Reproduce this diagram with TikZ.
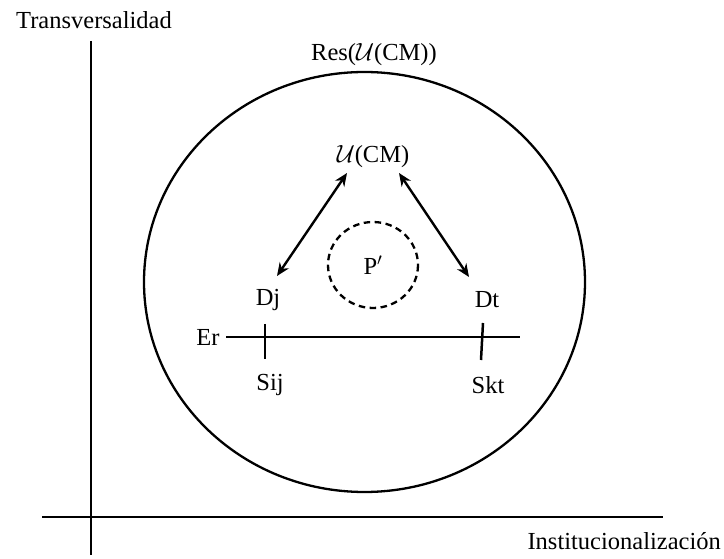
\documentclass[tikz,border=0pt]{standalone}
\usepackage{fontspec}
\setmainfont{Liberation Serif}
\usetikzlibrary{arrows.meta}
\begin{document}
\begin{tikzpicture}[x=1pt,y=-1pt,
  lbl/.style={font=\fontsize{24.5}{28}\selectfont, inner sep=0pt},
  axis/.style={line width=2.8pt},
  thick2/.style={line width=2.3pt},
  dbl/.style={line width=2.4pt, {Stealth[length=13pt,width=11pt]}-{Stealth[length=13pt,width=11pt]}}]
\useasboundingbox (0,0) rectangle (724,559);
% axes
\coordinate (vtop) at (91,41);
\coordinate (vbot) at (91,555);
\coordinate (hleft) at (42,517);
\coordinate (hright) at (663,517);
\draw[axis] (vtop) -- (vbot);
\draw[axis] (hleft) -- (hright);
\node[lbl] (ylab) at (94,20) {Transversalidad};
\node[lbl, anchor=east] (xlab) at (721,541) {Institucionalización};
% big circle
\draw[thick2] (364.5,282) ellipse [x radius=220.5, y radius=210];
\node[lbl] (res) at (374,55) {Res($\mathcal{U}$(CM))};
% top node
\node[lbl] (ucm) at (373,157) {$\mathcal{U}$(CM)};
\coordinate (uL) at (347,173);
\coordinate (uR) at (399,173);
\coordinate (dL) at (277,276);
\coordinate (dR) at (469,277);
\draw[dbl] (uL) -- (dL);
\draw[dbl] (uR) -- (dR);
% P' dashed circle
\draw[thick2, dash pattern=on 6.5pt off 4.5pt] (373,265) ellipse [x radius=45, y radius=43];
\node[lbl] (p) at (373,265) {P$'$};
% D labels
\node[lbl] (dj) at (268,300) {Dj};
\node[lbl] (dt) at (487,300) {Dt};
% Er line
\node[lbl] (er) at (208,337) {Er};
\coordinate (erL) at (226,337);
\coordinate (erR) at (520,337);
\draw[line width=2.5pt] (erL) -- (erR);
\coordinate (t1a) at (265,324);
\coordinate (t1b) at (265,359);
\coordinate (t2a) at (483,323);
\coordinate (t2b) at (481,360);
\draw[line width=2.5pt] (t1a) -- (t1b);
\draw[line width=2.5pt] (t2a) -- (t2b);
\node[lbl] (sij) at (270,385) {Sij};
\node[lbl] (skt) at (488,385) {Skt};
\end{tikzpicture}
\end{document}
